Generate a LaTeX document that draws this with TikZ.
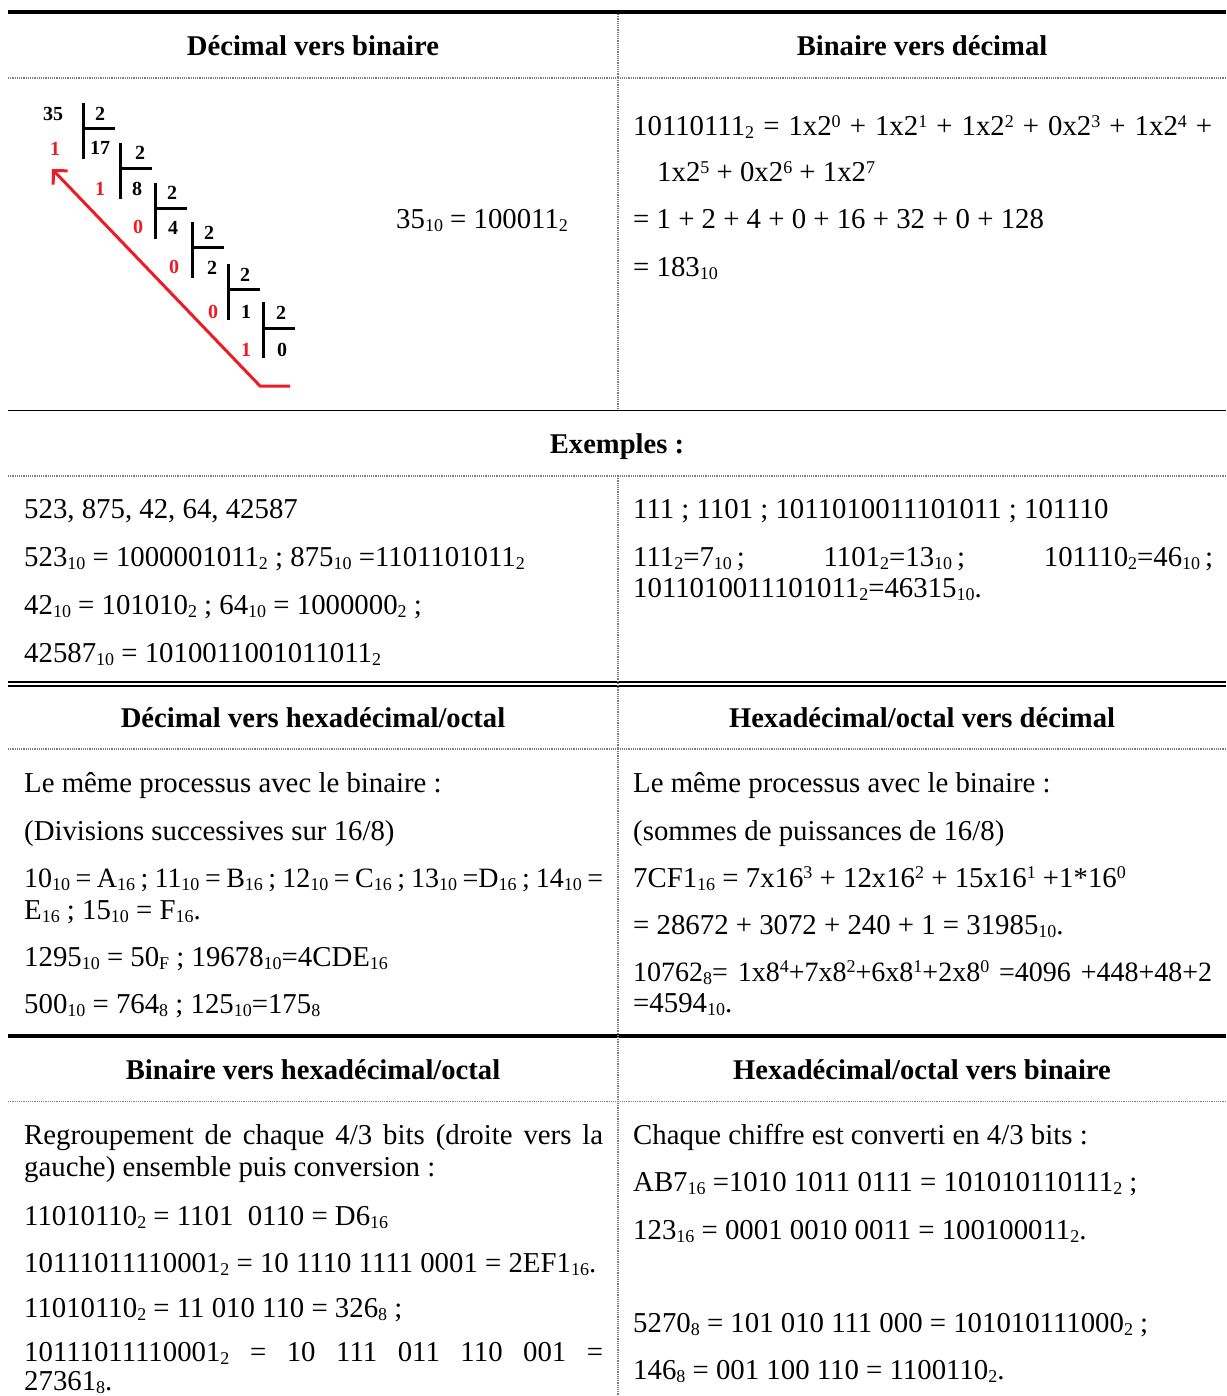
\documentclass[tikz,border=0pt]{standalone}
\usepackage{fontspec}
\setmainfont{Liberation Serif}
\usetikzlibrary{arrows.meta}

\newcommand\bodyfont{\fontsize{28.8}{34}\selectfont}
\newcommand\tightfont{\fontsize{28}{34}\selectfont}
\newcommand\headfont{\fontsize{28.6}{34}\selectfont\bfseries}
\newcommand\divfont{\fontsize{20}{20}\selectfont\bfseries}
\newcommand\sbs[1]{\raisebox{-3pt}{\fontsize{18}{18}\selectfont #1}}
\newcommand\sps[1]{\raisebox{8.5pt}{\fontsize{18}{18}\selectfont #1}}
\newcommand\jline[1]{\makebox[579pt][s]{#1}}

\definecolor{arrowred}{RGB}{237,28,36}
\definecolor{rulegray}{RGB}{125,125,125}

\tikzset{txt/.style = {anchor=base west, inner sep=0, font=\bodyfont}}
\tikzset{head/.style = {anchor=base, inner sep=0, font=\headfont}}
\tikzset{quot/.style = {inner sep=0, font=\divfont}}
\tikzset{rem/.style = {inner sep=0, font=\divfont, text=arrowred}}
\tikzset{boldrule/.style = {line width=3.6pt}}
\tikzset{midrule/.style = {line width=1.6pt}}
\tikzset{dotrule/.style = {rulegray, line width=1.2pt, dash pattern=on 1.2pt off 1pt}}
\tikzset{bracket/.style = {line width=3pt}}

\begin{document}
\begin{tikzpicture}[x=1pt, y=-1pt]
      \useasboundingbox (0,0) rectangle (1226,1396);

      % table rules
      \draw[boldrule] (8,12) -- (1226,12);
      \draw[dotrule] (8,78) -- (1226,78);
      \draw[midrule] (8,410.5) -- (1226,410.5);
      \draw[dotrule] (8,476) -- (1226,476);
      \draw[midrule] (8,682) -- (1226,682);
      \draw[midrule] (8,686) -- (1226,686);
      \draw[dotrule] (8,749) -- (1226,749);
      \draw[boldrule] (8,1036) -- (1226,1036);
      \draw[dotrule] (8,1101.5) -- (1226,1101.5);
      \draw[dotrule] (618,14) -- (618,410);
      \draw[dotrule] (618,476) -- (618,1396);

      % headers
      \node[head] (hdecbin) at (313,56) {Décimal vers binaire};
      \node[head] (hbindec) at (922,56) {Binaire vers décimal};
      \node[head] (hex) at (617,453) {Exemples :};
      \node[head] (hdechex) at (313,727) {Décimal vers hexadécimal/octal};
      \node[head] (hhexdec) at (922,727) {Hexadécimal/octal vers décimal};
      \node[head] (hbinhex) at (313,1079) {Binaire vers hexadécimal/octal};
      \node[head] (hhexbin) at (922,1079) {Hexadécimal/octal vers binaire};

      % successive divisions
      \foreach \bx/\by in {83/103, 120/143, 155/183, 192/222, 228/264, 263/302}
        \draw[bracket] (\bx,\by) -- ++(0,56) (\bx,\by+26) -- ++(32,0);
      \foreach \n/\x/\y/\t in {q0/53/114/35, d0/100/114/2, q1/100/148/17,
          d1/140/153/2, q2/137/189/8, d2/172/193/2, q3/173/228/4, d3/209/233/2,
          q4/212/268/2, d4/245/275/2, q5/246/312/1, d5/281/313/2, q6/282/350/0}
        \node[quot] (\n) at (\x,\y) {\t};
      \foreach \n/\x/\y/\t in {r0/55/149/1, r1/100/189/1, r2/138/227/0,
          r3/174/267/0, r4/213/312/0, r5/246/350/1}
        \node[rem] (\n) at (\x,\y) {\t};
      \coordinate (tail) at (290,386);
      \coordinate (bend) at (260,386);
      \coordinate (tip) at (52,169);
      \draw[arrowred, line width=3pt, -{Straight Barb[length=10pt, width=20pt, sharp]}]
        (tail) -- (bend) -- (tip);
      \node[txt] (res) at (396,229) {35\sbs{10} = 100011\sbs{2}};

      % binary to decimal
      \node[txt] (bd1) at (633,136) {\jline{10110111\sbs{2} = 1x2\sps{0} + 1x2\sps{1} + 1x2\sps{2} + 0x2\sps{3} + 1x2\sps{4} +}};
      \node[txt] (bd2) at (657,182) {1x2\sps{5} + 0x2\sps{6} + 1x2\sps{7}};
      \node[txt] (bd3) at (633,229) {= 1 + 2 + 4 + 0 + 16 + 32 + 0 + 128};
      \node[txt] (bd4) at (633,277) {= 183\sbs{10}};

      % examples
      \node[txt] (exl1) at (24,518) {523, 875, 42, 64, 42587};
      \node[txt] (exl2) at (24,566) {523\sbs{10} = 1000001011\sbs{2} ; 875\sbs{10} =1101101011\sbs{2}};
      \node[txt] (exl3) at (24,614) {42\sbs{10} = 101010\sbs{2} ; 64\sbs{10} = 1000000\sbs{2} ;};
      \node[txt] (exl4) at (24,662) {42587\sbs{10} = 1010011001011011\sbs{2}};
      \node[txt] (exr1) at (633,518) {111 ; 1101 ; 1011010011101011 ; 101110};
      \node[txt] (exr2) at (633,566) {\makebox[580pt][l]{111\sbs{2}=7\sbs{10}\kern5pt;\hfill
        1101\sbs{2}=13\sbs{10}\kern5pt;\hfill 101110\sbs{2}=46\sbs{10}\kern5pt;}};
      \node[txt] (exr3) at (633,597) {1011010011101011\sbs{2}=46315\sbs{10}.};

      % decimal to hexadecimal / octal
      \node[txt] (dh1) at (24,792) {Le même processus avec le binaire :};
      \node[txt] (dh2) at (24,840) {(Divisions successives sur 16/8)};
      \node[txt, font=\tightfont] (dh3) at (24,887) {\jline{10\sbs{10} = A\sbs{16} ; 11\sbs{10} = B\sbs{16} ; 12\sbs{10} = C\sbs{16} ; 13\sbs{10} =D\sbs{16} ; 14\sbs{10} =}};
      \node[txt] (dh4) at (24,919) {E\sbs{16} ; 15\sbs{10} = F\sbs{16}.};
      \node[txt] (dh5) at (24,966) {1295\sbs{10} = 50\sbs{F} ; 19678\sbs{10}=4CDE\sbs{16}};
      \node[txt] (dh6) at (24,1013) {500\sbs{10} = 764\sbs{8} ; 125\sbs{10}=175\sbs{8}};

      % hexadecimal / octal to decimal
      \node[txt] (hd1) at (633,792) {Le même processus avec le binaire :};
      \node[txt] (hd2) at (633,840) {(sommes de puissances de 16/8)};
      \node[txt] (hd3) at (633,887) {7CF1\sbs{16} = 7x16\sps{3} + 12x16\sps{2} + 15x16\sps{1} +1*16\sps{0}};
      \node[txt] (hd4) at (633,934) {= 28672 + 3072 + 240 + 1 = 31985\sbs{10}.};
      \node[txt, font=\tightfont] (hd5) at (633,981) {\jline{10762\sbs{8}= 1x8\sps{4}+7x8\sps{2}+6x8\sps{1}+2x8\sps{0} =4096 +448+48+2}};
      \node[txt] (hd6) at (633,1012) {=4594\sbs{10}.};

      % binary to hexadecimal / octal
      \node[txt] (bh1) at (24,1144) {\jline{Regroupement de chaque 4/3 bits (droite vers la}};
      \node[txt] (bh2) at (24,1176) {gauche) ensemble puis conversion :};
      \node[txt] (bh3) at (24,1225) {11010110\sbs{2} = 1101~ 0110 = D6\sbs{16}};
      \node[txt] (bh4) at (24,1272) {10111011110001\sbs{2} = 10 1110 1111 0001 = 2EF1\sbs{16}.};
      \node[txt] (bh5) at (24,1317) {11010110\sbs{2} = 11 010 110 = 326\sbs{8} ;};
      \node[txt] (bh6) at (24,1361) {\jline{10111011110001\sbs{2} = 10 111 011 110 001 =}};
      \node[txt] (bh7) at (24,1390) {27361\sbs{8}.};

      % hexadecimal / octal to binary
      \node[txt] (hb1) at (633,1144) {Chaque chiffre est converti en 4/3 bits :};
      \node[txt] (hb2) at (633,1191) {AB7\sbs{16} =1010 1011 0111 = 101010110111\sbs{2} ;};
      \node[txt] (hb3) at (633,1239) {123\sbs{16} = 0001 0010 0011 = 100100011\sbs{2}.};
      \node[txt] (hb4) at (633,1332) {5270\sbs{8} = 101 010 111 000 = 101010111000\sbs{2} ;};
      \node[txt] (hb5) at (633,1379) {146\sbs{8} = 001 100 110 = 1100110\sbs{2}.};
\end{tikzpicture}
\end{document}
